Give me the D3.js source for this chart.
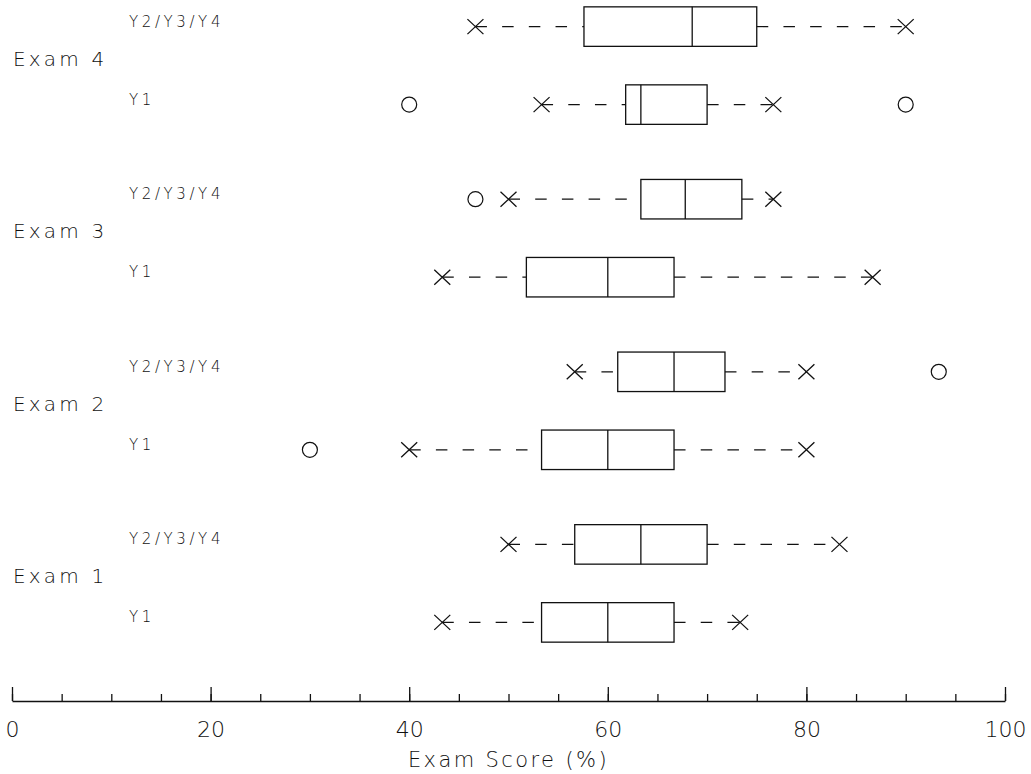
<!DOCTYPE html>
<html>
<head>
<meta charset="utf-8">
<script src="https://cdn.jsdelivr.net/npm/d3@7"></script>
<style>
  body { margin: 0; background: #fff; }
  text { font-family: "DejaVu Sans ExtraLight", "DejaVu Sans", sans-serif; font-weight: 200; fill: #111; }
</style>
</head>
<body>
<div id="chart"></div>
<script>
var exams = ["Exam 4", "Exam 3", "Exam 2", "Exam 1"];
var groups = ["Y2/Y3/Y4", "Y1"];

// one entry per box, same order in every array
var rowExam  = ["Exam 1", "Exam 1", "Exam 2", "Exam 2", "Exam 3", "Exam 3", "Exam 4", "Exam 4"];
var rowGroup = ["Y1", "Y2/Y3/Y4", "Y1", "Y2/Y3/Y4", "Y1", "Y2/Y3/Y4", "Y1", "Y2/Y3/Y4"];
var whiskerLow  = [43.33, 50, 40, 56.67, 43.33, 50, 53.33, 46.67];
var quartileLow = [53.33, 56.67, 53.33, 61, 51.8, 63.33, 61.8, 57.6];
var medians     = [60, 63.33, 60, 66.67, 60, 67.8, 63.33, 68.5];
var quartileHigh = [66.67, 70, 66.67, 71.8, 66.67, 73.5, 70, 75];
var whiskerHigh = [73.33, 83.33, 80, 80, 86.67, 76.67, 76.67, 90];
var outliers = [[], [], [30], [93.33], [], [46.67], [40, 90], []];

var majorTicks = [0, 20, 40, 60, 80, 100];
var xTitle = "Exam Score (%)";

var width = 1031, height = 774,
    boxHeight = 39.5;

var svg = d3.select("#chart").append("svg")
    .attr("width", width)
    .attr("height", height);

var x = d3.scaleLinear().domain([0, 100]).range([12, 1005]);
var yExam = d3.scalePoint().domain(exams).range([65.6, 583.4]);
var yGroup = d3.scalePoint().domain(groups).range([-39, 39]);

var rows = rowExam.map(function(e, i) {
  return {
    exam: e, group: rowGroup[i],
    low: whiskerLow[i], q1: quartileLow[i], med: medians[i],
    q3: quartileHigh[i], high: whiskerHigh[i], out: outliers[i],
    y: yExam(e) + yGroup(rowGroup[i])
  };
});

// exam labels
svg.selectAll(".examLabel")
    .data(exams)
    .enter().append("text")
      .attr("class", "examLabel")
      .attr("x", 13)
      .attr("y", function(d) { return yExam(d); })
      .style("font-size", "20px")
      .style("letter-spacing", "3.2px")
      .text(function(d) { return d; });

svg.selectAll(".groupLabel")
    .data(rows)
    .enter().append("text")
      .attr("class", "groupLabel")
      .attr("x", 129)
      .attr("y", function(d) { return d.y; })
      .style("font-size", "15px")
      .style("letter-spacing", "3.6px")
      .text(function(d) { return d.group; });

var g = svg.selectAll(".row")
    .data(rows)
    .enter().append("g")
    .attr("class", "row")
    .attr("transform", function(d) { return "translate(0," + d.y + ")"; });

g.append("line")
    .attr("x1", function(d) { return x(d.low); })
    .attr("x2", function(d) { return x(d.q1); })
    .attr("stroke", "#111").attr("stroke-width", 1.2)
    .attr("stroke-dasharray", "11.5,15.2");

g.append("line")
    .attr("x1", function(d) { return x(d.q3); })
    .attr("x2", function(d) { return x(d.high); })
    .attr("stroke", "#111").attr("stroke-width", 1.2)
    .attr("stroke-dasharray", "11.5,15.2");

g.append("rect")
    .attr("x", function(d) { return x(d.q1); })
    .attr("y", -boxHeight / 2)
    .attr("width", function(d) { return x(d.q3) - x(d.q1); })
    .attr("height", boxHeight)
    .attr("fill", "none")
    .attr("stroke", "#111").attr("stroke-width", 1.3);

g.append("line")
    .attr("x1", function(d) { return x(d.med); })
    .attr("x2", function(d) { return x(d.med); })
    .attr("y1", -boxHeight / 2)
    .attr("y2", boxHeight / 2)
    .attr("stroke", "#111").attr("stroke-width", 1.3);

// whisker ends drawn as crosses
g.selectAll(".cross")
    .data(function(d) { return [d.low, d.high]; })
    .enter().append("path")
      .attr("class", "cross")
      .attr("d", function(v) {
        var cx = x(v);
        return "M" + (cx - 8) + ",-7.5L" + (cx + 8) + ",7.5M" + (cx - 8) + ",7.5L" + (cx + 8) + ",-7.5";
      })
      .attr("stroke", "#111").attr("stroke-width", 1.3)
      .attr("fill", "none");

g.selectAll(".outlier")
    .data(function(d) { return d.out; })
    .enter().append("circle")
      .attr("class", "outlier")
      .attr("cx", function(v) { return x(v); })
      .attr("r", 7.5)
      .attr("fill", "none")
      .attr("stroke", "#111").attr("stroke-width", 1.2);

// x axis, ticks pointing up
var axisY = 701;

svg.append("g")
    .attr("transform", "translate(0," + axisY + ")")
    .call(d3.axisBottom(x).ticks(20).tickSize(-7).tickFormat(""))
    .call(function(s) { s.select(".domain").remove(); });

var ax = svg.append("g")
    .attr("transform", "translate(0," + axisY + ")")
    .call(d3.axisBottom(x).tickValues(majorTicks).tickSizeInner(-14).tickSizeOuter(0).tickPadding(20));

ax.selectAll("text")
    .style("font-size", "22px")
    .style("font-family", "\"DejaVu Sans ExtraLight\", \"DejaVu Sans\", sans-serif")
    .attr("fill", "#111");

svg.selectAll(".tick line, .domain")
    .attr("stroke", "#111")
    .attr("stroke-width", 1.3);

svg.append("text")
    .attr("x", (x.range()[0] + x.range()[1]) / 2)
    .attr("y", 767)
    .attr("text-anchor", "middle")
    .style("font-size", "21px")
    .style("letter-spacing", "2.4px")
    .text(xTitle);
</script>
</body>
</html>
